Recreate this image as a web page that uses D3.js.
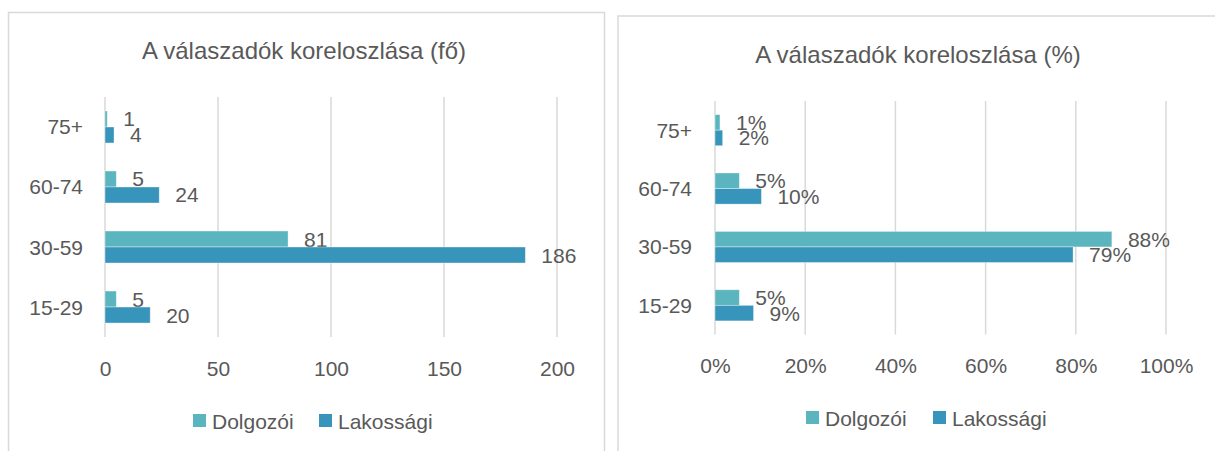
<!DOCTYPE html>
<html>
<head>
<meta charset="utf-8">
<script src="https://cdn.jsdelivr.net/npm/d3@7"></script>
<style>
  body { margin: 0; background: #fff; }
  text { font-family: "Liberation Sans", Arial, sans-serif; fill: #595959; }
</style>
</head>
<body>
<div id="chart"></div>
<script>
// age groups, bottom to top as in the original
var categories = ['15-29', '30-59', '60-74', '75+'];
var seriesNames = ['Dolgozói', 'Lakossági'];
var colors = ['#5bb5bf', '#3794bb'];

// headcount (fő)
var dolgozoiCount = [5, 81, 5, 1];
var lakossagiCount = [20, 186, 24, 4];
var countTicks = [0, 50, 100, 150, 200];

// share (%)
var dolgozoiPct = [0.054, 0.880, 0.054, 0.011];
var lakossagiPct = [0.0855, 0.794, 0.103, 0.017];
var pctTicks = [0, 0.2, 0.4, 0.6, 0.8, 1.0];

var svg = d3.select('#chart')
  .append('svg')
    .attr('width', 1215)
    .attr('height', 451);

var drawPanel = function(p) {
  var g = svg.append('g');

  // outer frame
  g.append('rect')
    .attr('x', p.frame[0])
    .attr('y', p.frame[1])
    .attr('width', p.frame[2])
    .attr('height', 500)
    .attr('fill', 'none')
    .attr('stroke', '#d9d9d9')
    .attr('stroke-width', 1.5);

  g.append('text')
    .attr('x', p.titleX)
    .attr('y', p.titleY)
    .attr('text-anchor', 'middle')
    .attr('dominant-baseline', 'central')
    .style('font-size', '24px')
    .text(p.title);

  var x = d3.scaleLinear().domain([0, p.max]).range([p.left, p.right]);
  var y = d3.scaleBand().domain(categories).range([p.bottom, p.top])
    .paddingInner(0.467).paddingOuter(0.233);
  var ySub = d3.scaleBand().domain(seriesNames).range([0, y.bandwidth()]);

  // vertical gridlines
  g.selectAll('.grid')
    .data(p.ticks)
    .enter().append('line')
      .attr('x1', function(d) { return x(d); })
      .attr('x2', function(d) { return x(d); })
      .attr('y1', p.top)
      .attr('y2', p.bottom)
      .attr('stroke', '#d9d9d9')
      .attr('stroke-width', 1.5);

  // x axis labels
  var xAxis = d3.axisBottom(x).tickValues(p.ticks).tickFormat(p.tickFormat).tickSize(0).tickPadding(0);
  var ax = g.append('g')
    .attr('transform', 'translate(0,' + p.tickY + ')')
    .call(xAxis);
  ax.select('.domain').remove();
  ax.selectAll('text')
    .attr('dy', null)
    .attr('dominant-baseline', 'central')
    .style('font-size', '21px')
    .style('font-family', '"Liberation Sans", Arial, sans-serif')
    .attr('fill', '#595959');

  // category labels
  var yAxis = d3.axisLeft(y).tickSize(0).tickPadding(0);
  var ay = g.append('g')
    .attr('transform', 'translate(' + p.catX + ',0)')
    .call(yAxis);
  ay.select('.domain').remove();
  ay.selectAll('text')
    .attr('dy', null)
    .attr('dominant-baseline', 'central')
    .style('font-size', '21px')
    .style('font-family', '"Liberation Sans", Arial, sans-serif')
    .attr('fill', '#595959');

  // bars
  p.series.forEach(function(vals, s) {
    var rows = categories.map(function(c, i) { return { cat: c, v: vals[i] }; });
    g.selectAll('.bar' + s)
      .data(rows)
      .enter().append('rect')
        .attr('x', x(0))
        .attr('y', function(d) { return y(d.cat) + ySub(seriesNames[s]); })
        .attr('width', function(d) { return x(d.v) - x(0); })
        .attr('height', ySub.bandwidth())
        .attr('fill', colors[s])
        .attr('stroke', '#ffffff')
        .attr('stroke-opacity', 0.5)
        .attr('stroke-width', 0.75);

    g.selectAll('.lbl' + s)
      .data(rows)
      .enter().append('text')
        .attr('x', function(d) { return x(d.v) + 16; })
        .attr('y', function(d) { return y(d.cat) + ySub(seriesNames[s]) + ySub.bandwidth() / 2; })
        .attr('dominant-baseline', 'central')
        .style('font-size', '21px')
        .text(function(d) { return p.labelFormat(d.v); });
  });

  // legend
  seriesNames.forEach(function(name, s) {
    g.append('rect')
      .attr('x', p.legendX[s])
      .attr('y', p.legendY - 7)
      .attr('width', 13)
      .attr('height', 13)
      .attr('fill', colors[s]);
    g.append('text')
      .attr('x', p.legendX[s] + 19)
      .attr('y', p.legendY)
      .attr('dominant-baseline', 'central')
      .style('font-size', '21px')
      .text(name);
  });
};

drawPanel({
  frame: [8.5, 12.5, 596],
  title: 'A válaszadók koreloszlása (fő)',
  titleX: 304, titleY: 50,
  left: 105, right: 557, top: 97, bottom: 337,
  max: 200, ticks: countTicks,
  tickFormat: d3.format('d'),
  labelFormat: d3.format('d'),
  tickY: 368, catX: 83,
  series: [dolgozoiCount, lakossagiCount],
  legendX: [193, 319], legendY: 421
});

drawPanel({
  frame: [618, 16, 620],
  title: 'A válaszadók koreloszlása (%)',
  titleX: 918, titleY: 54,
  left: 715, right: 1166, top: 101, bottom: 334.5,
  max: 1, ticks: pctTicks,
  tickFormat: d3.format('.0%'),
  labelFormat: d3.format('.0%'),
  tickY: 365, catX: 692,
  series: [dolgozoiPct, lakossagiPct],
  legendX: [806, 933], legendY: 418
});
</script>
</body>
</html>
